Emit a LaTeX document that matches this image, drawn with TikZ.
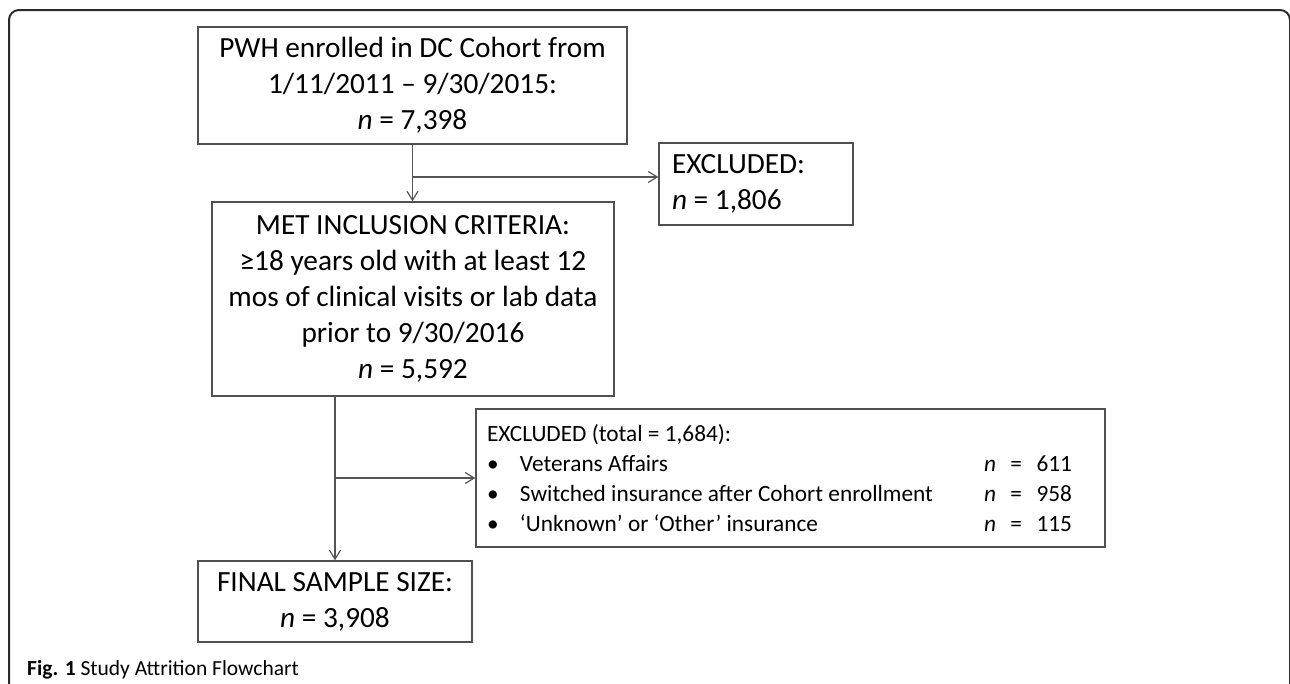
\documentclass[tikz,border=0pt]{standalone}
\usepackage{fontspec}
\setmainfont{Carlito}
\usetikzlibrary{arrows.meta}
\definecolor{framecol}{HTML}{2A2A2A}
\definecolor{boxcol}{HTML}{505050}
\definecolor{arrcol}{HTML}{555555}
\tikzset{
  box/.style={draw=boxcol, line width=1.3pt, inner sep=0pt, align=center,
    font=\fontsize{29.3}{36}\selectfont},
  lbox/.style={draw=boxcol, line width=1.3pt, inner ysep=0pt, align=flush left},
  arr/.style={draw=arrcol, line width=1.2pt, -{Straight Barb[length=9pt,width=11pt]}},
}
\newcommand{\bulletline}[2]{\makebox[497pt][l]{\makebox[33pt][l]{•}#1}\makebox[88pt][s]{\textit{n} = #2}}
\begin{document}
\begin{tikzpicture}[x=1pt,y=-1pt]
\useasboundingbox (0,0) rectangle (1290,683);
\clip (0,0) rectangle (1290,683);
\fill[white] (0,0) rectangle (1290,683);
\draw[framecol, line width=2pt, rounded corners=10pt] (9,700) -- (9,10) -- (1290,10) -- (1290,700);

\node[box, minimum width=429pt, minimum height=117pt] (b1) at (412.5,85.5)
  {PWH enrolled in DC Cohort from\\1/11/2011 -- 9/30/2015:\\\textit{n} = 7,398};
\node[box, minimum width=402pt, minimum height=194pt] (b2) at (413,299)
  {MET INCLUSION CRITERIA:\\≥18 years old with at least 12\\mos of clinical visits or lab data\\prior to 9/30/2016\\\textit{n} = 5,592};
\node[lbox, inner xsep=13pt, text width=168pt, minimum height=82pt,
  font=\fontsize{29.3}{36}\selectfont] (e1) at (756,184)
  {EXCLUDED:\\\textit{n} = 1,806};
\node[lbox, inner xsep=11pt, text width=607pt, minimum height=138pt,
  font=\fontsize{23.3}{30}\selectfont] (b3) at (790.5,478)
  {EXCLUDED (total = 1,684):\\
   \bulletline{Veterans Affairs}{611}\\
   \bulletline{Switched insurance after Cohort enrollment}{958}\\
   \bulletline{‘Unknown’ or ‘Other’ insurance}{115}};
\node[box, minimum width=274pt, minimum height=81pt] (b4) at (335,601.5)
  {FINAL SAMPLE SIZE:\\\textit{n} = 3,908};

\coordinate (j1) at (b1.south |- 0,177);
\draw[arr] (b1.south) -- (b1.south |- b2.north);
\draw[arr] (j1) -- (j1 -| e1.west);

\coordinate (t2) at (b4.north |- b2.south);
\coordinate (j2) at (b4.north |- b3.west);
\draw[arr] (t2) -- (b4.north);
\draw[arr] (j2) -- (b3.west);

\node[anchor=base west, inner sep=0pt, font=\fontsize{21.5}{26}\selectfont] (cap) at (27,675)
  {\textbf{Fig. 1} Study Attrition Flowchart};
\end{tikzpicture}
\end{document}
